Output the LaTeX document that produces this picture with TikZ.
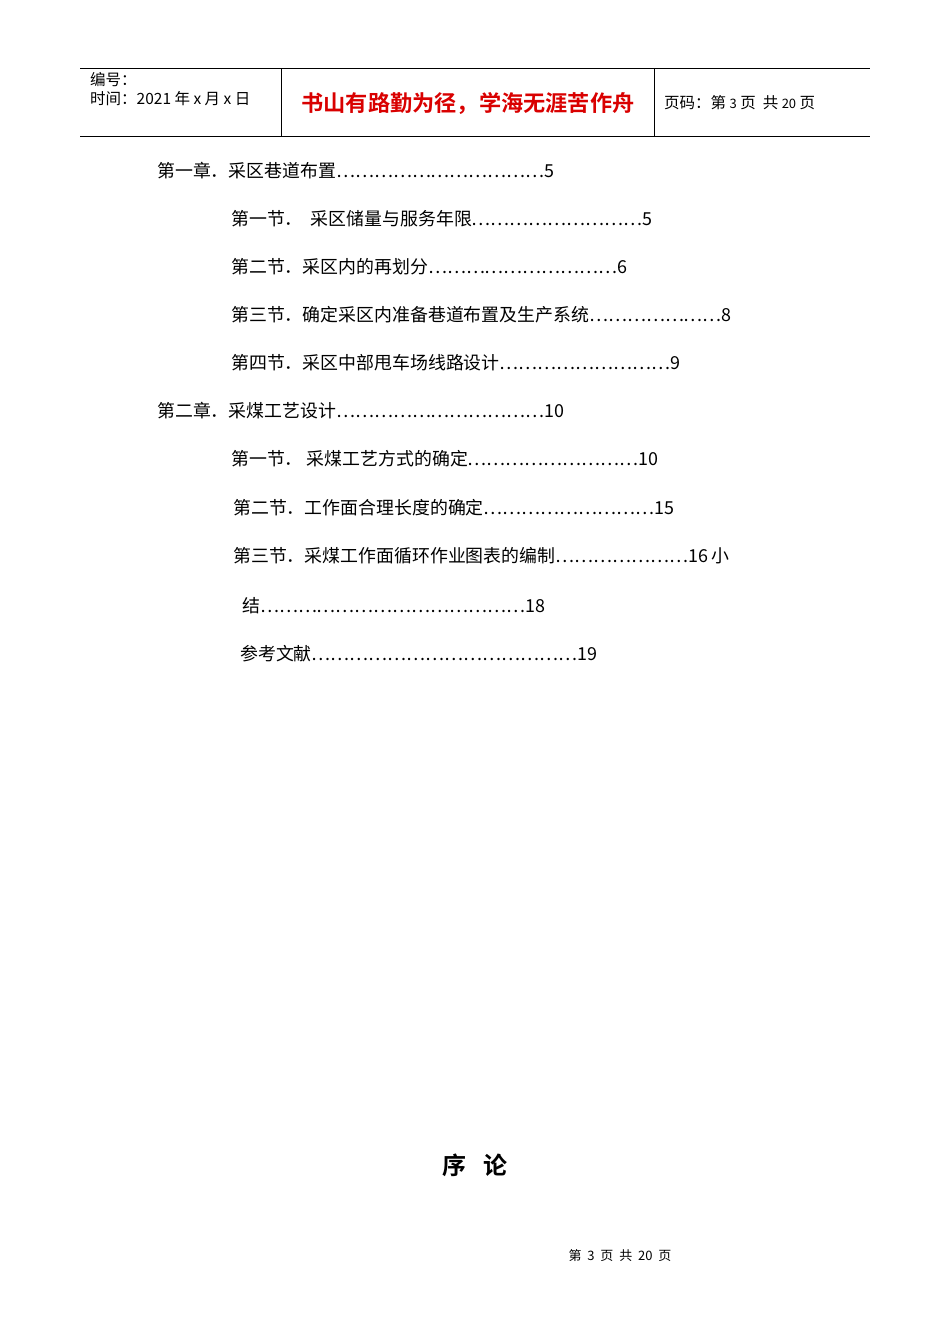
\documentclass[tikz,border=0pt]{standalone}
\usepackage{fontspec}
\setmainfont{Liberation Serif}
\newfontfamily\cjk{Noto Sans CJK SC}
\newfontfamily\cjkb{Noto Sans CJK SC Bold}
\begin{document}
\begin{tikzpicture}[x=1pt,y=-1pt,
  toc/.style={anchor=west,inner sep=0pt,font=\cjk\fontsize{17.9}{18}\selectfont},
  hd/.style={anchor=west,inner sep=0pt,font=\cjk\fontsize{15.5}{16}\selectfont}]
\useasboundingbox (0,0) rectangle (950,1344);
\fill[white] (0,0) rectangle (950,1344);
\draw[line width=0.8pt] (80,68) -- (870,68) (80,136) -- (870,136) (281,68) -- (281,136) (654,68) -- (654,136);
\node[hd] (a) at (90,80) {编号：};
\node[hd] (b) at (90,99) {时间：2021 年 x 月 x 日};
\node[anchor=center,inner sep=0pt,text=red!85!black,font=\cjkb\fontsize{22.2}{22}\selectfont] (c) at (468,103) {书山有路勤为径，学海无涯苦作舟};
\node[hd] (d) at (664,103) {页码：第 {\fontsize{13}{13}\selectfont 3} 页\ \ 共 {\fontsize{13}{13}\selectfont 20} 页};
\node[toc] (t1) at (157,171) {第一章．采区巷道布置……………………………5};
\node[toc] (t2) at (231,219) {第一节．\ \ 采区储量与服务年限………………………5};
\node[toc] (t3) at (231,267) {第二节．采区内的再划分…………………………6};
\node[toc] (t4) at (231,315) {第三节．确定采区内准备巷道布置及生产系统…………………8};
\node[toc] (t5) at (231,363) {第四节．采区中部甩车场线路设计………………………9};
\node[toc] (t6) at (157,411) {第二章．采煤工艺设计……………………………10};
\node[toc] (t7) at (231,459) {第一节．\ 采煤工艺方式的确定………………………10};
\node[toc] (t8) at (233,508) {第二节．工作面合理长度的确定………………………15};
\node[toc] (t9) at (233,556) {第三节．采煤工作面循环作业图表的编制…………………16 小};
\node[toc] (t10) at (242,606) {结……………………………………18};
\node[toc] (t11) at (240,654) {参考文献……………………………………19};
\node[inner sep=0pt,font=\cjkb\fontsize{24}{24}\selectfont] (x) at (475,1165) {序\ \ \ 论};
\node[inner sep=0pt,font=\cjk\fontsize{13}{13}\selectfont] (f) at (620,1256) {第\ \ 3\ \ 页\ \ 共\ \ 20\ \ 页};
\end{tikzpicture}
\end{document}
